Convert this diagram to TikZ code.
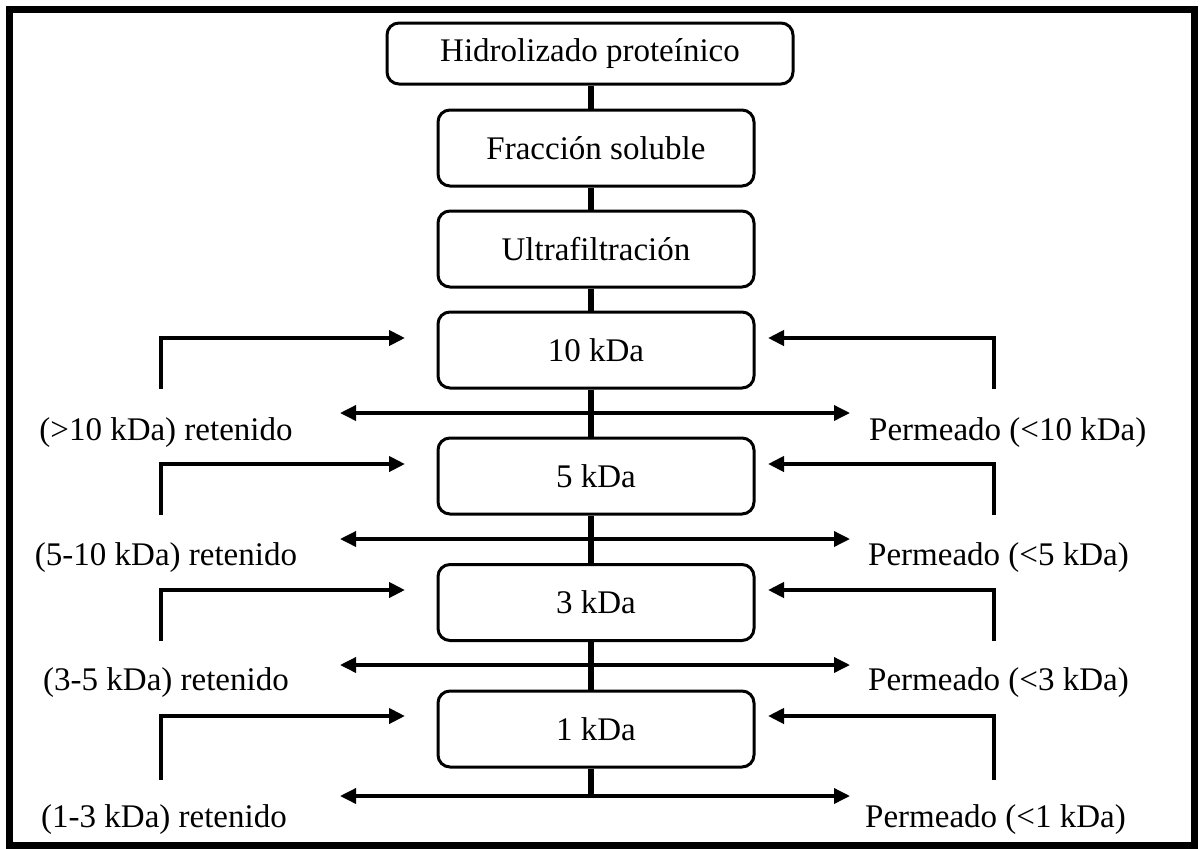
\documentclass[tikz,border=0pt]{standalone}
\usepackage{fontspec}
\setmainfont{Liberation Serif}
\usetikzlibrary{arrows.meta}
\begin{document}
\begin{tikzpicture}[x=1pt,y=-1pt,
  box/.style={draw,line width=3pt,rounded corners=12pt,minimum width=316pt,minimum height=76pt,inner sep=0pt,fill=white,font=\fontsize{33}{40}\selectfont},
  lbl/.style={font=\fontsize{33}{40}\selectfont,inner sep=0pt},
  trunk/.style={line width=6pt},
  flow/.style={line width=3.5pt,-{Triangle[length=16pt,width=15pt]}},
  feed/.style={line width=4pt,-{Triangle[length=16pt,width=15pt]}}]
\useasboundingbox (0,0) rectangle (1200,849);
\draw[line width=7pt] (9.5,9.5) rectangle (1194.5,845);

% main boxes
\node[box,minimum width=406pt,minimum height=61pt] (hid) at (590,53.5) {Hidrolizado proteínico};
\node[box] (fra) at (596,148) {Fracción soluble};
\node[box] (ult) at (596,249) {Ultrafiltración};
\node[box] (k10) at (596,350) {10 kDa};
\node[box] (k5) at (596,476) {5 kDa};
\node[box] (k3) at (596,602.5) {3 kDa};
\node[box] (k1) at (596,729) {1 kDa};

% trunk
\coordinate (t) at (591,0);
\coordinate (o1) at (591,796);
\draw[trunk] (hid.south -| t) -- (fra.north -| t);
\draw[trunk] (fra.south -| t) -- (ult.north -| t);
\draw[trunk] (ult.south -| t) -- (k10.north -| t);
\draw[trunk] (k10.south -| t) -- (k5.north -| t);
\draw[trunk] (k5.south -| t) -- (k3.north -| t);
\draw[trunk] (k3.south -| t) -- (k1.north -| t);
\draw[trunk] (k1.south -| t) -- (o1);

% outlet points
\coordinate (o10) at (591,413);
\coordinate (o5) at (591,539);
\coordinate (o3) at (591,665);
\coordinate (r10) at (340,413); \coordinate (p10) at (850,413);
\coordinate (r5) at (340,539);  \coordinate (p5) at (850,539);
\coordinate (r3) at (340,665);  \coordinate (p3) at (850,665);
\coordinate (r1) at (340,796);  \coordinate (p1) at (850,796);
\draw[flow] (o10) -- (r10); \draw[flow] (o10) -- (p10);
\draw[flow] (o5) -- (r5);   \draw[flow] (o5) -- (p5);
\draw[flow] (o3) -- (r3);   \draw[flow] (o3) -- (p3);
\draw[flow] (o1) -- (r1);   \draw[flow] (o1) -- (p1);

% labels
\node[lbl,anchor=base] (rl10) at (166,440) {(>10 kDa) retenido};
\node[lbl,anchor=base] (rl5) at (166,565) {(5-10 kDa) retenido};
\node[lbl,anchor=base] (rl3) at (166,690) {(3-5 kDa) retenido};
\node[lbl,anchor=base] (rl1) at (164,827) {(1-3 kDa) retenido};
\node[lbl,anchor=base west] (pl10) at (869,440) {Permeado (<10 kDa)};
\node[lbl,anchor=base west] (pl5) at (868,565) {Permeado (<5 kDa)};
\node[lbl,anchor=base west] (pl3) at (868,690) {Permeado (<3 kDa)};
\node[lbl,anchor=base west] (pl1) at (865,827) {Permeado (<1 kDa)};

% feed arrows (left)
\coordinate (lf10) at (161,389); \coordinate (lt10) at (405,338);
\coordinate (lf5) at (161,515);  \coordinate (lt5) at (405,464);
\coordinate (lf3) at (161,641);  \coordinate (lt3) at (405,590);
\coordinate (lf1) at (161,780);  \coordinate (lt1) at (405,716);
\draw[feed] (lf10) |- (lt10);
\draw[feed] (lf5) |- (lt5);
\draw[feed] (lf3) |- (lt3);
\draw[feed] (lf1) |- (lt1);
% feed arrows (right)
\coordinate (rf10) at (994,389); \coordinate (rt10) at (768,338);
\coordinate (rf5) at (994,515);  \coordinate (rt5) at (768,464);
\coordinate (rf3) at (994,641);  \coordinate (rt3) at (768,590);
\coordinate (rf1) at (994,780);  \coordinate (rt1) at (768,716);
\draw[feed] (rf10) |- (rt10);
\draw[feed] (rf5) |- (rt5);
\draw[feed] (rf3) |- (rt3);
\draw[feed] (rf1) |- (rt1);
\end{tikzpicture}
\end{document}
